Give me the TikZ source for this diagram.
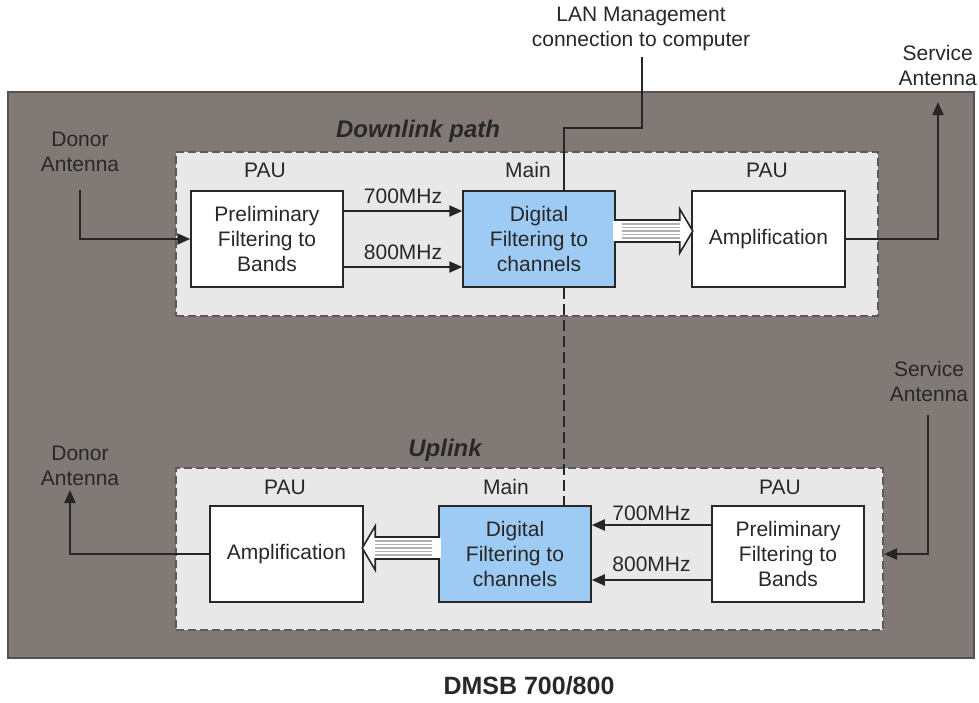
\documentclass[tikz,border=0pt]{standalone}
\usepackage{fontspec}
\setmainfont{Liberation Sans}
\usetikzlibrary{arrows.meta,calc}
\definecolor{housing}{RGB}{128,121,118}
\definecolor{housingedge}{RGB}{85,82,80}
\definecolor{pathfill}{RGB}{232,232,232}
\definecolor{pathedge}{RGB}{90,90,90}
\definecolor{dspblue}{RGB}{157,203,243}
\definecolor{ink}{RGB}{40,40,40}
\tikzset{
  txt/.style={text=ink, align=center, inner sep=0pt},
  title/.style={txt, font=\fontsize{24}{28}\selectfont\bfseries\itshape},
  blk/.style={draw=ink, line width=1.5pt, fill=white, minimum width=153pt,
              minimum height=96pt, align=center, text=ink, inner sep=2pt},
  dsp/.style={blk, fill=dspblue, minimum width=152pt},
  pathbox/.style={draw=pathedge, fill=pathfill, line width=2pt,
                  dash pattern=on 8pt off 4pt, inner sep=0pt},
  wire/.style={draw=black!85, line width=2.2pt},
  sig/.style={wire, -{Triangle[length=13pt,width=11pt]}},
  ctl/.style={draw=black!85, line width=2.2pt, dash pattern=on 11pt off 5pt},
  pics/fatarrow/.style={code={
    \draw[black!85, line width=1.6pt, fill=white]
      (0,-11) -- (#1-13,-11) -- (#1-13,-22) -- (#1,0) -- (#1-13,22)
      -- (#1-13,11) -- (0,11) -- cycle;
    \foreach \k in {-7,-3.5,0,3.5,7}
      \draw[gray!60, line width=1.5pt] (6,\k) -- (#1-13,\k);
    \fill[white] (-3,-10) rectangle (6,10);
  }}
}
\begin{document}
\begin{tikzpicture}[x=1pt, y=-1pt, font=\fontsize{21}{25}\selectfont]
\useasboundingbox (0,0) rectangle (979,702);

% housing of the repeater
\node[draw=housingedge, fill=housing, line width=1.8pt, minimum width=966pt,
      minimum height=566pt, inner sep=0pt] (housing) at (491,375) {};

% downlink and uplink path areas
\node[pathbox, minimum width=702pt, minimum height=164pt] (dlbox) at (527,234) {};
\node[pathbox, minimum width=707pt, minimum height=162pt] (ulbox) at (529.5,549) {};

\node[title] (dltitle) at (418,131) {Downlink path};
\node[title] (ultitle) at (445,450) {Uplink};

% downlink blocks
\node[blk, minimum width=152pt] (dpre) at (267,239) {Preliminary\\Filtering to\\Bands};
\node[dsp] (ddig) at (539,239) {Digital\\Filtering to\\channels};
\node[blk] (damp) at (768.5,239) {Amplification};
\node[txt] (dpau1) at (265,170) {PAU};
\node[txt] (dmain) at (528,170) {Main};
\node[txt] (dpau2) at (767,170) {PAU};

% uplink blocks
\node[blk] (uamp) at (286.5,554) {Amplification};
\node[dsp] (udig) at (515,554) {Digital\\Filtering to\\channels};
\node[blk, minimum width=152pt] (upre) at (788,554) {Preliminary\\Filtering to\\Bands};
\node[txt] (upau1) at (285,487) {PAU};
\node[txt] (umain) at (506,487) {Main};
\node[txt] (upau2) at (780,487) {PAU};

% antenna and management labels
\node[txt] (ddonor) at (80,152) {Donor\\Antenna};
\node[txt, anchor=east] (dserv) at (977,65) {Service\\Antenna};
\node[txt] (userv) at (929,381.5) {Service\\Antenna};
\node[txt] (udonor) at (80,466) {Donor\\Antenna};
\node[txt] (lan) at (641,28.5) {LAN Management\\connection to computer};
\node[txt, font=\fontsize{25}{29}\selectfont\bfseries] (model) at (529,686) {DMSB 700/800};

% antenna ends
\coordinate (ddonorend) at (80,190);
\coordinate (dservend) at (938,102);
\coordinate (uservend) at (928,415);
\coordinate (udonorend) at (70,490);

% downlink signal flow
\draw[sig] (ddonorend) |- (dpre.west);
\coordinate (d700) at ([yshift=28pt]dpre.east);
\coordinate (d800) at ([yshift=-28pt]dpre.east);
\draw[sig] (d700) -- (d700 -| ddig.west) node[txt, midway, above=6pt] {700MHz};
\draw[sig] (d800) -- (d800 -| ddig.west) node[txt, midway, above=6pt] {800MHz};
\pic at ([yshift=8pt]ddig.east) {fatarrow=77};
\draw[sig] (damp.east) -| (dservend);

% uplink signal flow
\draw[sig] (uservend) |- ([yshift=-5pt]ulbox.east);
\coordinate (u700) at ([yshift=29pt]upre.west);
\coordinate (u800) at ([yshift=-26pt]upre.west);
\draw[sig] (u700) -- (u700 -| udig.east) node[txt, midway, above=3pt] {700MHz};
\draw[sig] (u800) -- (u800 -| udig.east) node[txt, midway, above=7pt] {800MHz};
\pic[xscale=-1] at ([yshift=6pt]udig.west) {fatarrow=76};
\draw[sig] (uamp.west) -| (udonorend);

% management link and internal control link
\coordinate (lanin) at ([xshift=25pt]ddig.north);
\coordinate (ctlout) at ([xshift=25pt]ddig.south);
\coordinate (lanout) at (642,57);
\draw[wire] (lanout) -- (642,128) -| (lanin);
\draw[ctl] (ctlout) -- (ctlout |- udig.north);
\end{tikzpicture}
\end{document}
